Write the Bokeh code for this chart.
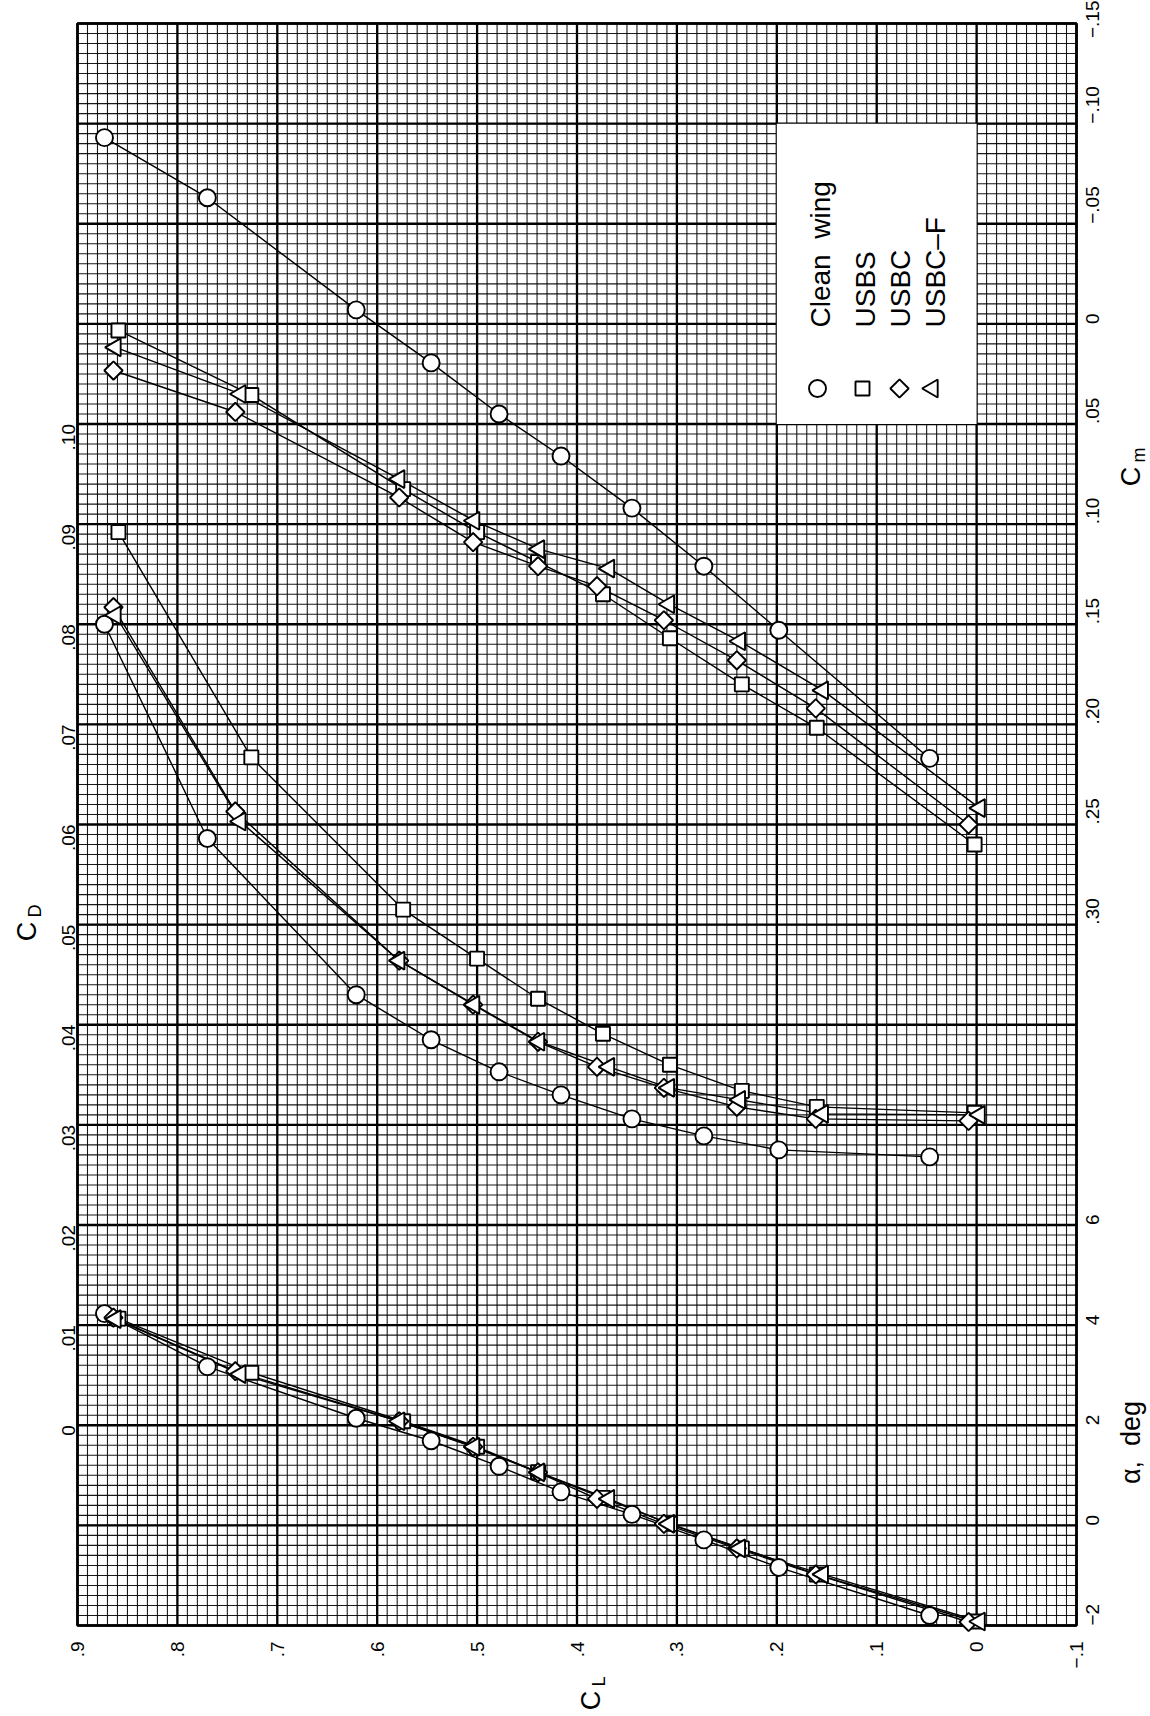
import numpy as np
from bokeh.plotting import figure
from bokeh.models import Range1d, LinearAxis, FixedTicker, Label
from bokeh.embed import file_html
from bokeh.resources import INLINE

# ---------------- measured data (one array per quantity) ----------------
NB = "\u00a0"
names = ["Clean" + NB * 2 + "wing", "USBS", "USBC", "USBC\u2013F"]

# Clean wing (circles)
cl_clean = [0.873, 0.770, 0.621, 0.546, 0.478, 0.416, 0.345, 0.273, 0.198, 0.047]
cd_clean = [0.0800, 0.0586, 0.0430, 0.0385, 0.0353, 0.0330, 0.0306, 0.0289, 0.0275, 0.0268]
cm_clean = [-0.093, -0.063, -0.007, 0.0195, 0.045, 0.066, 0.092, 0.121, 0.153, 0.217]
al_clean = [4.23, 3.17, 2.14, 1.69, 1.18, 0.67, 0.22, -0.29, -0.84, -1.80]

# USBS (squares)
cl_usbs = [0.859, 0.726, 0.574, 0.500, 0.439, 0.374, 0.307, 0.235, 0.160, 0.002]
cd_usbs = [0.0892, 0.0667, 0.0515, 0.0466, 0.0426, 0.0391, 0.0360, 0.0334, 0.0318, 0.0312]
cm_usbs = [0.0033, 0.0355, 0.0825, 0.104, 0.119, 0.135, 0.157, 0.180, 0.2017, 0.260]
al_usbs = [4.13, 3.05, 2.08, 1.57, 1.06, 0.55, 0.03, -0.46, -0.98, -1.92]

# USBC (diamonds)
cl_usbc = [0.864, 0.742, 0.578, 0.504, 0.439, 0.380, 0.313, 0.240, 0.161, 0.008]
cd_usbc = [0.0817, 0.0613, 0.0464, 0.0420, 0.0383, 0.0358, 0.0337, 0.0318, 0.0306, 0.0304]
cm_usbc = [0.0233, 0.044, 0.0867, 0.109, 0.121, 0.131, 0.148, 0.168, 0.192, 0.250]
al_usbc = [4.15, 3.08, 2.08, 1.57, 1.06, 0.53, 0.03, -0.46, -0.98, -1.93]

# USBC-F (triangles)
cl_usbcf = [0.862, 0.737, 0.578, 0.503, 0.438, 0.368, 0.308, 0.237, 0.154, -0.003]
cd_usbcf = [0.0809, 0.0603, 0.0464, 0.0420, 0.0383, 0.0358, 0.0337, 0.0325, 0.0311, 0.0310]
cm_usbcf = [0.0117, 0.035, 0.0775, 0.0983, 0.1125, 0.1222, 0.140, 0.1585, 0.183, 0.2418]
al_usbcf = [4.12, 3.02, 2.08, 1.57, 1.06, 0.53, 0.03, -0.46, -0.98, -1.92]

# tick values
cl_ticks = [0.9, 0.8, 0.7, 0.6, 0.5, 0.4, 0.3, 0.2, 0.1, 0.0, -0.1]
cd_ticks = [0.0, 0.01, 0.02, 0.03, 0.04, 0.05, 0.06, 0.07, 0.08, 0.09, 0.10]
cm_ticks = [-0.15, -0.10, -0.05, 0.0, 0.05, 0.10, 0.15, 0.20, 0.25, 0.30]
al_ticks = [-2, 0, 2, 4, 6]

# ---------------- page geometry ----------------
W, H = 1150, 1716
# graph-paper rectangle inside the canvas (pixels)
PL, PR, PT, PB = 77, 1076, 23, 1625

# value spans covered by the graph paper
CL_LEFT, CL_RIGHT = 0.9, -0.1
CD_BOT, CD_TOP = -0.02, 0.14
CM_BOT, CM_TOP = 0.65, -0.15
AL_BOT, AL_TOP = -2.0, 30.0


def extend_h(v_left, v_right):
    per = (v_right - v_left) / (PR - PL)
    return v_left - PL * per, v_right + (W - PR) * per


def extend_v(v_bot, v_top):
    per = (v_top - v_bot) / (PB - PT)
    return v_bot - (H - PB) * per, v_top + PT * per


x_rng = Range1d(*extend_h(CL_LEFT, CL_RIGHT))
y_rng = Range1d(*extend_v(CD_BOT, CD_TOP))
cm_rng = Range1d(*extend_v(CM_BOT, CM_TOP))
al_rng = Range1d(*extend_v(AL_BOT, AL_TOP))


def px_x(px):
    return x_rng.start + px / W * (x_rng.end - x_rng.start)


def px_y(py):
    return y_rng.end - py / H * (y_rng.end - y_rng.start)


def tick_text(v, digits):
    if abs(v) < 1e-12:
        return "0"
    s = f"{abs(v):.{digits}f}"
    if s.startswith("0"):
        s = s[1:]
    return ("\u2212" if v < 0 else "") + s


p = figure(width=W, height=H, x_range=x_rng, y_range=y_rng,
           output_backend="svg", toolbar_location=None,
           min_border=0, min_border_left=0, min_border_right=0,
           min_border_top=0, min_border_bottom=0,
           background_fill_color="white", border_fill_color="white")
p.extra_y_ranges = {"cm": cm_rng, "alpha": al_rng}
p.outline_line_color = None
p.grid.visible = False

# ---------------- graph-paper grid ----------------
x_minor = [round(v, 4) for v in np.arange(CL_RIGHT, CL_LEFT + 1e-6, 0.01)]
y_minor = [round(v, 5) for v in np.arange(CD_BOT, CD_TOP + 1e-6, 0.001)]
x_major = [round(v, 3) for v in np.arange(CL_RIGHT, CL_LEFT + 1e-6, 0.1)]
y_major = [round(v, 4) for v in np.arange(CD_BOT, CD_TOP + 1e-6, 0.01)]

p.segment(x0=x_minor, x1=x_minor, y0=[CD_BOT] * len(x_minor), y1=[CD_TOP] * len(x_minor),
          line_color="black", line_width=1.1, line_alpha=0.9)
p.segment(x0=[CL_LEFT] * len(y_minor), x1=[CL_RIGHT] * len(y_minor), y0=y_minor, y1=y_minor,
          line_color="black", line_width=1.1, line_alpha=0.9)
p.segment(x0=x_major, x1=x_major, y0=[CD_BOT] * len(x_major), y1=[CD_TOP] * len(x_major),
          line_color="black", line_width=2.3)
p.segment(x0=[CL_LEFT] * len(y_major), x1=[CL_RIGHT] * len(y_major), y0=y_major, y1=y_major,
          line_color="black", line_width=2.3)

# legend box (blank area of the paper)
p.quad(left=[0.2], right=[0.0], bottom=[0.10], top=[0.13],
       fill_color="white", line_color=None)

# paper border
p.quad(left=[CL_LEFT], right=[CL_RIGHT], bottom=[CD_BOT], top=[CD_TOP],
       fill_color=None, line_color="black", line_width=2.6)

# ---------------- axes (drawn along the paper edges) ----------------
TICK_FONT = "Liberation Sans"
TICK_SIZE = "19px"


def style_axis(ax, standoff):
    ax.axis_line_color = None
    ax.major_tick_out = 0
    ax.major_tick_in = 0
    ax.minor_tick_out = 0
    ax.minor_tick_in = 0
    ax.major_label_orientation = np.pi / 2
    ax.major_label_text_font = TICK_FONT
    ax.major_label_text_font_size = TICK_SIZE
    ax.major_label_text_color = "black"
    ax.major_label_standoff = standoff


xa = p.xaxis[0]
xa.ticker = FixedTicker(ticks=cl_ticks)
xa.major_label_overrides = {v: tick_text(v, 1) for v in cl_ticks}
xa.fixed_location = CD_BOT
style_axis(xa, 16)

ya = p.yaxis[0]
ya.ticker = FixedTicker(ticks=cd_ticks)
ya.major_label_overrides = {v: tick_text(v, 2) for v in cd_ticks}
ya.fixed_location = CL_LEFT
style_axis(ya, 9)

# right edge: C_m scale and alpha scale share one column
ra_cm = LinearAxis(y_range_name="cm", ticker=FixedTicker(ticks=cm_ticks),
                   major_label_overrides={v: tick_text(v, 2) for v in cm_ticks},
                   fixed_location=CL_RIGHT)
style_axis(ra_cm, 16)
p.add_layout(ra_cm, "right")

ra_al = LinearAxis(y_range_name="alpha", ticker=FixedTicker(ticks=al_ticks),
                   major_label_overrides={v: tick_text(v, 0) for v in al_ticks},
                   fixed_location=CL_RIGHT)
style_axis(ra_al, 16)
p.add_layout(ra_al, "right")

# ---------------- curves ----------------
series = [
    (cl_clean, cd_clean, cm_clean, al_clean, dict(marker="circle", size=17, angle=0.0)),
    (cl_usbs, cd_usbs, cm_usbs, al_usbs, dict(marker="square", size=14, angle=0.0)),
    (cl_usbc, cd_usbc, cm_usbc, al_usbc, dict(marker="square", size=13, angle=np.pi / 4)),
    (cl_usbcf, cd_usbcf, cm_usbcf, al_usbcf, dict(marker="triangle", size=18, angle=np.pi / 2)),
]

LW = 1.4
for cl, cd, cm, al, mk in series:
    p.line(cl, cd, line_color="black", line_width=LW)
    p.line(cl, cm, line_color="black", line_width=LW, y_range_name="cm")
    p.line(cl, al, line_color="black", line_width=LW, y_range_name="alpha")
for cl, cd, cm, al, mk in series:
    kw = dict(fill_color="white", line_color="black", line_width=1.9, **mk)
    p.scatter(cl, cd, **kw)
    p.scatter(cl, cm, y_range_name="cm", **kw)
    p.scatter(cl, al, y_range_name="alpha", **kw)

# ---------------- legend entries ----------------
leg_sym_x = [817, 862, 899, 932]
leg_txt_x = [820, 865, 900, 935]
leg_sym_y = 388
leg_txt_y = 327
for (cl, cd, cm, al, mk), name, sx, tx in zip(series, names, leg_sym_x, leg_txt_x):
    p.scatter([px_x(sx)], [px_y(leg_sym_y)], fill_color="white", line_color="black",
              line_width=1.9, **mk)
    p.add_layout(Label(x=px_x(tx), y=px_y(leg_txt_y), text=name, angle=np.pi / 2,
                       text_align="left", text_baseline="middle",
                       text_font="Liberation Sans", text_font_size="28px",
                       text_color="black"))

# ---------------- axis titles ----------------
TITLE_FONT = "Liberation Sans"


def coef_title(cx, cy, sub):
    p.add_layout(Label(x=px_x(cx), y=px_y(cy + 6), text="C", angle=np.pi / 2,
                       text_align="center", text_baseline="middle",
                       text_font=TITLE_FONT, text_font_size="27px", text_color="black"))
    p.add_layout(Label(x=px_x(cx + 8), y=px_y(cy - 8), text=sub, angle=np.pi / 2,
                       text_align="left", text_baseline="middle",
                       text_font=TITLE_FONT, text_font_size="18px", text_color="black"))


coef_title(590, 1694, "L")
coef_title(26, 925, "D")
coef_title(1130, 470, "m")
p.add_layout(Label(x=px_x(1130), y=px_y(1442), text="\u03b1," + NB * 2 + "deg", angle=np.pi / 2,
                   text_align="center", text_baseline="middle",
                   text_font=TITLE_FONT, text_font_size="27px", text_color="black"))

open("out.html", "w").write(file_html(p, INLINE))
